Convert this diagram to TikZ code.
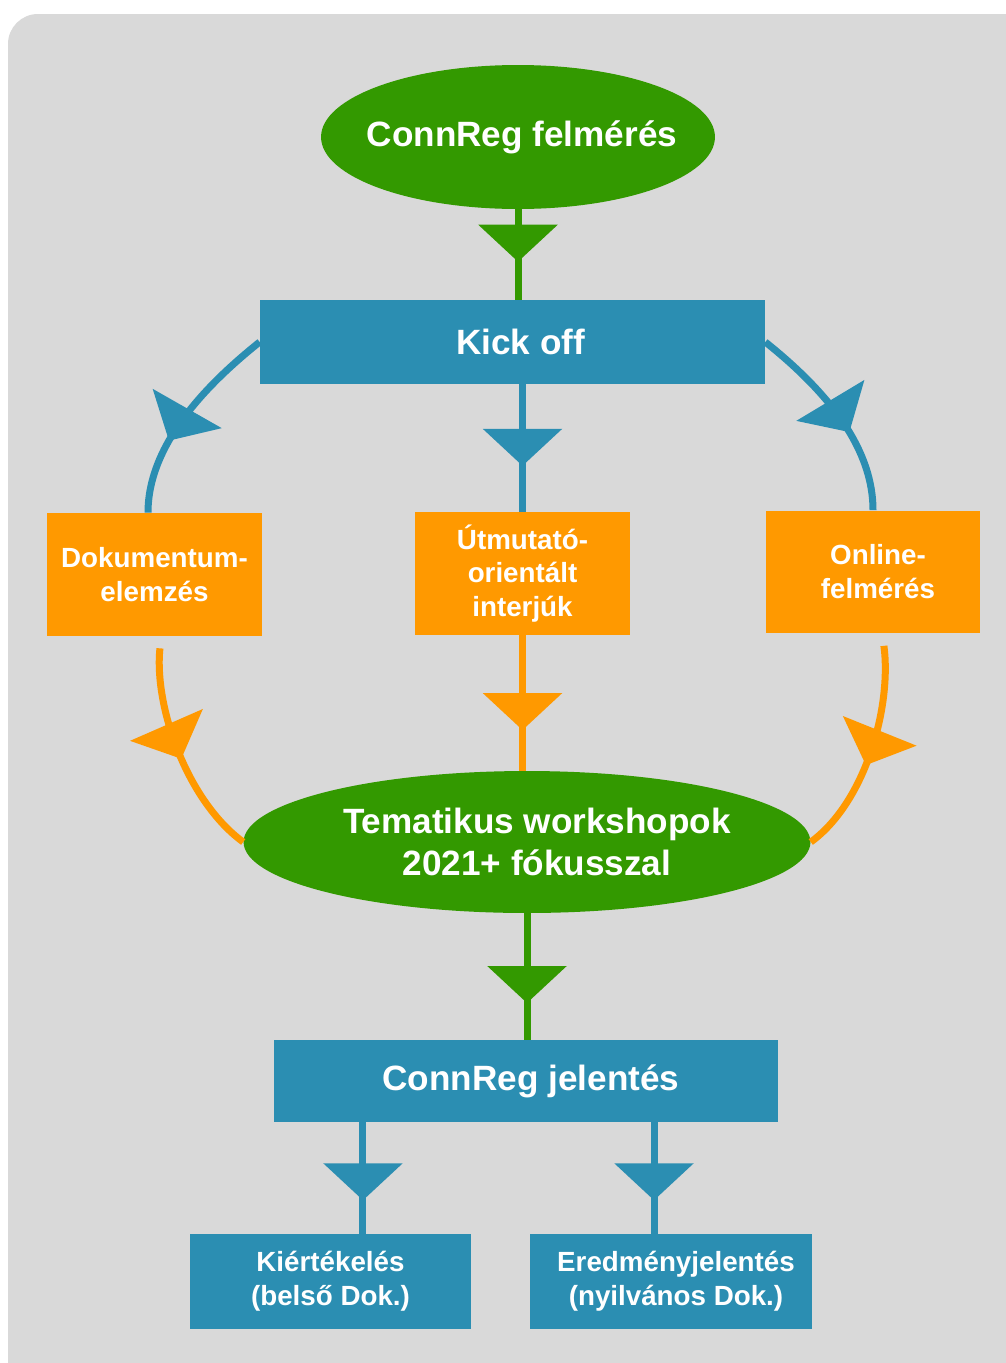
\documentclass[tikz,border=0pt]{standalone}
\usepackage{fontspec}
\setmainfont{Liberation Sans}
\usepackage{tikz}
\usetikzlibrary{arrows.meta,shapes.geometric,decorations.markings}
\definecolor{cgreen}{HTML}{339900}
\definecolor{cblue}{HTML}{2B8EB2}
\definecolor{corange}{HTML}{FF9900}
\definecolor{cgray}{HTML}{D9D9D9}

\begin{document}
\begin{tikzpicture}[x=0.02cm,y=-0.02cm,
  bigtext/.style={text=white,font=\fontsize{20}{23.5}\selectfont\bfseries,align=center},
  smalltext/.style={text=white,font=\fontsize{15.8}{19.3}\selectfont\bfseries,align=center},
  oval/.style={ellipse,fill=cgreen,inner ysep=0pt,inner xsep=-2cm,bigtext},
  bluebox/.style={rectangle,fill=cblue,inner sep=0pt},
  orangebox/.style={rectangle,fill=corange,inner sep=0pt,smalltext,minimum width=4.3cm,minimum height=2.46cm},
  conn/.style={line width=0.14cm},
  midarrow/.style={postaction={decorate},decoration={markings,mark=at position #1 with {\arrow{Triangle[width=1.56cm,length=0.74cm]}}}}]
\useasboundingbox (0,0) rectangle (1006,1363);
\clip (0,0) rectangle (1006,1363);
\fill[white] (0,0) rectangle (1006,1363);
\fill[cgray,rounded corners=0.6cm] (8,14) rectangle (1060,1420);

\node[oval,minimum width=7.88cm,minimum height=2.88cm] (survey) at (518,137) {\hspace*{0.16cm}ConnReg felmérés};
\node[bluebox,bigtext,minimum width=10.1cm,minimum height=1.68cm] (kickoff) at (512.5,342) {\hspace*{0.32cm}Kick off};
\node[orangebox] (docs) at (154.5,574.5) {Dokumentum-\\elemzés};
\node[orangebox] (guide) at (522.5,573.5) {Útmutató-\\orientált\\interjúk};
\node[orangebox] (online) at (873,572) {\hspace*{0.2cm}Online-\\\hspace*{0.2cm}felmérés};
\node[oval,minimum width=11.34cm,minimum height=2.84cm] (workshop) at (527,842) {\hspace*{0.4cm}Tematikus workshopok\\\hspace*{0.4cm}2021+ fókusszal};
\node[bluebox,bigtext,minimum width=10.08cm,minimum height=1.64cm] (report) at (526,1081) {\hspace*{0.2cm}ConnReg jelentés};
\node[bluebox,smalltext,minimum width=5.62cm,minimum height=1.9cm] (internal) at (330.5,1281.5) {Kiértékelés\\(belső Dok.)};
\node[bluebox,smalltext,minimum width=5.64cm,minimum height=1.9cm] (public) at (671,1281.5) {\hspace*{0.2cm}Eredményjelentés\\\hspace*{0.2cm}(nyilvános Dok.)};

\coordinate (docsOut) at ([yshift=-0.24cm]docs.-85);
\coordinate (onlineOut) at ([yshift=-0.24cm]online.-80);
\coordinate (internalIn) at ([xshift=0.65cm]internal.north);
\coordinate (publicIn) at ([xshift=-0.34cm]public.north);

\draw[conn,cgreen,midarrow=0.58] (survey.south) -- (survey.south |- kickoff.north);
\draw[conn,cblue,midarrow=0.64] (guide.north |- kickoff.south) -- (guide.north);
\draw[conn,cblue,midarrow=0.64] (kickoff.west) .. controls +(-50,40) and +(0,-70) .. (docs.96);
\draw[conn,cblue,midarrow=0.6] (kickoff.east) .. controls +(50,40) and +(0,-70) .. (online.north);
\draw[conn,corange,midarrow=0.7] (guide.south) -- (guide.south |- workshop.north);
\draw[conn,corange,midarrow=0.52] (docsOut) .. controls +(-6,60) and +(-55,-40) .. (workshop.west);
\draw[conn,corange,midarrow=0.56] (onlineOut) .. controls +(8,60) and +(55,-40) .. (workshop.east);
\draw[conn,cgreen,midarrow=0.71] (workshop.south) -- (workshop.south |- report.north);
\draw[conn,cblue,midarrow=0.7] (internalIn |- report.south) -- (internalIn);
\draw[conn,cblue,midarrow=0.7] (publicIn |- report.south) -- (publicIn);
\end{tikzpicture}
\end{document}
